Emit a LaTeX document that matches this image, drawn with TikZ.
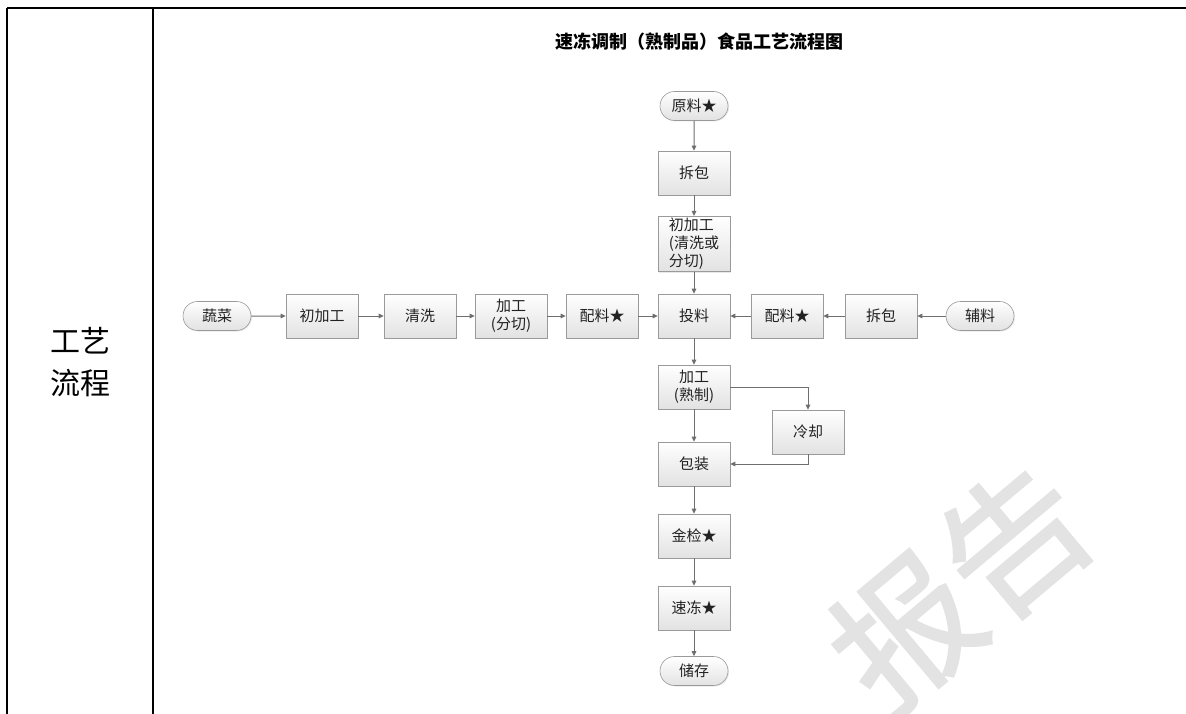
\documentclass[tikz,border=0pt]{standalone}
\usepackage{fontspec}
\newfontfamily\cjk{Noto Sans CJK SC}
\newfontfamily\cjkwm[FakeBold=1.6]{Noto Sans CJK SC}
\usepackage{xcolor}
\usepackage{tikz}
\usetikzlibrary{arrows.meta,shapes.misc,shadows}
\definecolor{ink}{HTML}{222222}
\definecolor{edge}{HTML}{9A9A9A}
\definecolor{wire}{HTML}{6E6E6E}
\definecolor{fillb}{HTML}{E2E2E2}
\tikzset{
  font=\cjk\fontsize{15}{18}\selectfont,
  flow/.style={-{Triangle[length=5pt,width=4.5pt]},line width=1pt,draw=wire},
  stepbox/.style={rectangle,draw=edge,line width=.6pt,top color=white,bottom color=fillb,
    minimum width=72pt,minimum height=44pt,inner sep=2pt,align=center,text=ink,
    drop shadow={opacity=.18,shadow xshift=1pt,shadow yshift=-1pt}},
  terminal/.style={rounded rectangle,draw=edge,line width=.6pt,top color=white,bottom color=fillb,
    minimum width=72pt,minimum height=29pt,inner sep=2pt,text=ink,
    drop shadow={opacity=.18,shadow xshift=1pt,shadow yshift=-1pt}},
  frame/.style={line width=1.4pt,draw=black},
  title/.style={font=\cjk\bfseries\fontsize{18}{20}\selectfont,text=black},
  rowhead/.style={font=\cjk\fontsize{30}{42}\selectfont,align=center,text=black},
  watermark/.style={font=\cjkwm\fontsize{142}{142}\selectfont,text=black!11}
}

\begin{document}
\begin{tikzpicture}[x=1pt,y=-1pt]
\useasboundingbox (0,0) rectangle (1186,714);
\begin{scope}
\clip (0,0) rectangle (1186,714);
\node[watermark,rotate=40] (wm) at (960,586) {报告};
\end{scope}

% table frame
\draw[frame] (7,8) -- (1186,8);
\draw[frame] (7,8) -- (7,714);
\draw[frame] (153,8) -- (153,714);
\node[rowhead] (head) at (80,362) {工艺\\流程};
\node[title] (ttl) at (699,42) {速冻调制（熟制品）食品工艺流程图};

% main column
\node[terminal] (raw) at (694,106) {原料★};
\node[stepbox] (unpack) at (694,173) {拆包};
\node[stepbox,align=left,inner xsep=4pt,font=\cjk\fontsize{15}{18}\selectfont] (prep) at (694,244) {初加工\\(清洗或\\分切)};
\node[stepbox] (feed) at (694,316) {投料};
\node[stepbox] (cook) at (694,387) {加工\\(熟制)};
\node[stepbox] (cool) at (808,432) {冷却};
\node[stepbox] (pack) at (694,464) {包装};
\node[stepbox] (metal) at (694,536) {金检★};
\node[stepbox] (freeze) at (694,608) {速冻★};
\node[terminal] (store) at (694,671) {储存};

% left row
\node[terminal] (veg) at (217,316) {蔬菜};
\node[stepbox] (vprep) at (322,316) {初加工};
\node[stepbox] (wash) at (420,316) {清洗};
\node[stepbox] (cut) at (511,316) {加工\\(分切)};
\node[stepbox] (mixl) at (602,316) {配料★};

% right row
\node[stepbox] (mixr) at (787,316) {配料★};
\node[stepbox] (unpackr) at (881,316) {拆包};
\node[terminal] (aux) at (980,316) {辅料};

\draw[flow] (raw) -- (unpack);
\draw[flow] (unpack) -- (prep);
\draw[flow] (prep) -- (feed);
\draw[flow] (feed) -- (cook);
\draw[flow] (cook) -- (pack);
\draw[flow] (pack) -- (metal);
\draw[flow] (metal) -- (freeze);
\draw[flow] (freeze) -- (store);
\draw[flow] (cook.east) -| (cool.north);
\draw[flow] (cool.south) |- (pack.east);

\draw[flow] (veg) -- (vprep);
\draw[flow] (vprep) -- (wash);
\draw[flow] (wash) -- (cut);
\draw[flow] (cut) -- (mixl);
\draw[flow] (mixl) -- (feed);

\draw[flow] (aux) -- (unpackr);
\draw[flow] (unpackr) -- (mixr);
\draw[flow] (mixr) -- (feed);
\end{tikzpicture}
\end{document}
